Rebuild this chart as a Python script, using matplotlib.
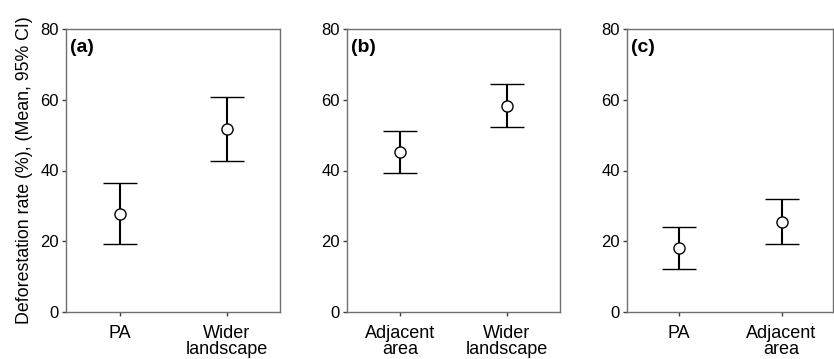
import numpy as np
import matplotlib
matplotlib.use("Agg")
import matplotlib.pyplot as plt

plt.rcParams['font.family'] = ['Liberation Sans', 'DejaVu Sans']

panel_tags = ['(a)', '(b)', '(c)']
categories = [['PA', 'Wider\nlandscape'],
              ['Adjacent\narea', 'Wider\nlandscape'],
              ['PA', 'Adjacent\narea']]
means = [[27.8, 51.8], [45.3, 58.3], [18.2, 25.5]]
upper = [[36.5, 60.7], [51.3, 64.4], [24.1, 31.9]]
lower = [[19.1, 42.8], [39.3, 52.2], [12.2, 19.1]]

W, H = 834, 359
fig = plt.figure(figsize=(W / 100, H / 100), dpi=100)
lefts = [66, 347, 627]
rights = [280, 560, 833]
top, bottom = 29, 312

for k in range(3):
    ax = fig.add_axes([lefts[k] / W, 1 - bottom / H,
                       (rights[k] - lefts[k]) / W, (bottom - top) / H])
    x = np.arange(len(categories[k]))
    m = np.array(means[k])
    err = [m - np.array(lower[k]), np.array(upper[k]) - m]
    ax.errorbar(x, m, yerr=err, fmt='o', color='black', ecolor='black',
                elinewidth=1.5, capsize=12, capthick=1.5,
                markersize=8, markerfacecolor='white',
                markeredgecolor='black', markeredgewidth=1.0)
    ax.set_xlim(-0.5, 1.5)
    ax.set_ylim(0, 80)
    ax.set_yticks([0, 20, 40, 60, 80])
    ax.set_xticks(x)
    ax.set_xticklabels(categories[k], linespacing=1.0, fontsize=13)
    for s in ax.spines.values():
        s.set_color('#707070')
        s.set_linewidth(1.0)
    ax.tick_params(axis='both', direction='out', length=3, width=1,
                   color='#404040', pad=2)
    ax.tick_params(axis='y', labelsize=12)
    ax.tick_params(axis='x', pad=6)
    ax.text(0.02, 0.965, panel_tags[k], transform=ax.transAxes,
            fontsize=14, fontweight='bold', ha='left', va='top')
    if k == 0:
        ax.set_ylabel('Deforestation rate (%), (Mean, 95% CI)',
                      fontsize=12.8, labelpad=5)

fig.savefig('out.png', dpi=100)
